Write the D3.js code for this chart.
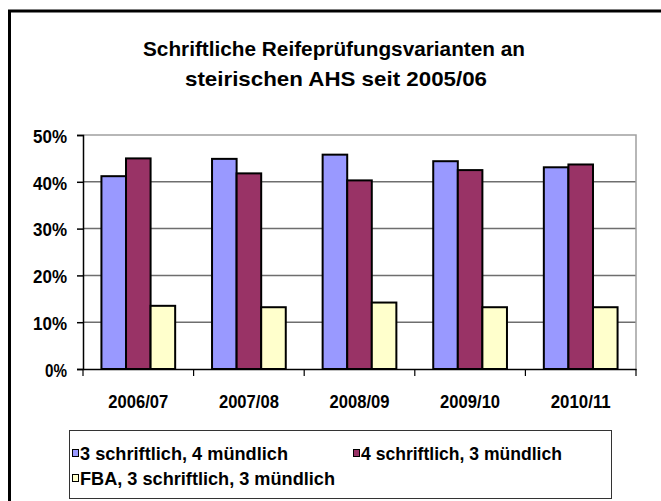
<!DOCTYPE html>
<html><head><meta charset="utf-8">
<script src="https://cdnjs.cloudflare.com/ajax/libs/d3/7.8.5/d3.min.js"></script>
<style>html,body{margin:0;padding:0;background:#fff;overflow:hidden}</style>
</head><body>
<script>
const categories = ["2006/07","2007/08","2008/09","2009/10","2010/11"];
const seriesNames = ["3 schriftlich, 4 mündlich","4 schriftlich, 3 mündlich","FBA, 3 schriftlich, 3 mündlich"];
const s1 = [0.412,0.449,0.458,0.444,0.431];
const s2 = [0.450,0.418,0.403,0.425,0.437];
const s3 = [0.135,0.132,0.142,0.132,0.132];
const yTicks = [0,0.1,0.2,0.3,0.4,0.5];
const colors = ["#9999FF","#993366","#FFFFCC"];
const titleLines = ["Schriftliche Reifeprüfungsvarianten  an","steirischen AHS seit 2005/06"];
const seriesValues = [s1,s2,s3];

const W=661,H=501;
const svg=d3.select("body").append("svg").attr("width",W).attr("height",H);
const font="'Liberation Sans', Arial, sans-serif";

// outer border
svg.append("rect").attr("x",9.5).attr("y",11).attr("width",700).attr("height",600)
  .attr("fill","#fff").attr("stroke","#000").attr("stroke-width",3);

// title
const tl=[{t:titleLines[0],y:56,len:382,cx:334},{t:titleLines[1],y:86,len:302,cx:336}];
svg.selectAll("text.title").data(tl).enter().append("text").attr("class","title")
  .attr("x",d=>d.cx-d.len/2).attr("y",d=>d.y).attr("textLength",d=>d.len).attr("lengthAdjust","spacingAndGlyphs")
  .attr("font-family",font).attr("font-weight","bold").attr("font-size",20.5).attr("fill","#000").text(d=>d.t);

const L=83,R=636,T=135,B=369;
const x0=d3.scaleBand().domain(categories).range([L,R]).padding(0);
const x1=d3.scaleBand().domain(d3.range(3)).range([0,x0.bandwidth()]).paddingInner(0).paddingOuter(0.75);
const y=d3.scaleLinear().domain([0,0.5]).range([B,T]);

// gridlines
svg.append("g").selectAll("line").data(yTicks.filter(v=>v>0&&v<0.5)).enter().append("line")
  .attr("x1",L).attr("x2",R).attr("y1",d=>y(d)).attr("y2",d=>y(d))
  .attr("stroke","#6e6e6e").attr("stroke-width",1.5);
// plot border top/right
svg.append("path").attr("d",`M${L},${y(0.5)}H${R}V${B}`).attr("fill","none")
  .attr("stroke","#a0a0a0").attr("stroke-width",1.5);

// bars
const data=[];
categories.forEach((c,i)=>seriesValues.forEach((s,j)=>data.push({c,j,v:s[i]})));
svg.append("g").selectAll("rect").data(data).enter().append("rect")
  .attr("x",d=>x0(d.c)+x1(d.j)).attr("y",d=>y(d.v))
  .attr("width",x1.bandwidth()).attr("height",d=>B-y(d.v))
  .attr("fill",d=>colors[d.j]).attr("stroke","#000").attr("stroke-width",2);

// y axis
const ya=svg.append("g").attr("transform",`translate(${L},0)`)
  .call(d3.axisLeft(y).tickValues(yTicks).tickSize(6).tickPadding(10).tickFormat(d3.format(".0%")));
ya.select(".domain").attr("stroke","#000").attr("stroke-width",1.5);
ya.selectAll(".tick line").attr("stroke","#000").attr("stroke-width",1.5);
ya.selectAll(".tick text").attr("font-family",font).attr("font-weight","bold").attr("font-size",19)
  .attr("fill","#000").attr("dy","0.38em")
  .attr("textLength",d=>d===0?22:34).attr("lengthAdjust","spacingAndGlyphs");

// x axis
const xa=svg.append("g").attr("transform",`translate(0,${B})`)
  .call(d3.axisBottom(x0).tickSize(0).tickPadding(26));
xa.select(".domain").attr("stroke","#000").attr("stroke-width",1.5);
xa.selectAll(".tick text").attr("font-family",font).attr("font-weight","bold").attr("font-size",19)
  .attr("fill","#000").attr("textLength",60).attr("lengthAdjust","spacingAndGlyphs");
// category boundary ticks
const bounds=categories.map(c=>x0(c)).concat([R]);
svg.append("g").selectAll("line").data(bounds).enter().append("line")
  .attr("x1",d=>d).attr("x2",d=>d).attr("y1",B).attr("y2",B+7)
  .attr("stroke","#000").attr("stroke-width",1.2);

// legend
const lg=svg.append("g");
lg.append("rect").attr("x",69.5).attr("y",430.5).attr("width",542).attr("height",68)
  .attr("fill","#fff").attr("stroke","#333").attr("stroke-width",1);
const lpos=[{x:72,y:453,len:208},{x:353,y:453,len:201},{x:72,y:478,len:255}];
const li=lg.selectAll("g.item").data(seriesNames).enter().append("g")
  .attr("transform",(d,i)=>`translate(${lpos[i].x},${lpos[i].y})`);
li.append("rect").attr("x",0.5).attr("y",-3.5).attr("width",6).attr("height",7)
  .attr("fill",(d,i)=>colors[i]).attr("stroke","#000").attr("stroke-width",1);
li.append("text").attr("x",8).attr("y",0).attr("dy","0.36em")
  .attr("font-family",font).attr("font-weight","bold").attr("font-size",19).attr("fill","#000")
  .attr("textLength",(d,i)=>lpos[i].len).attr("lengthAdjust","spacingAndGlyphs").text(d=>d);
</script>
</body></html>
